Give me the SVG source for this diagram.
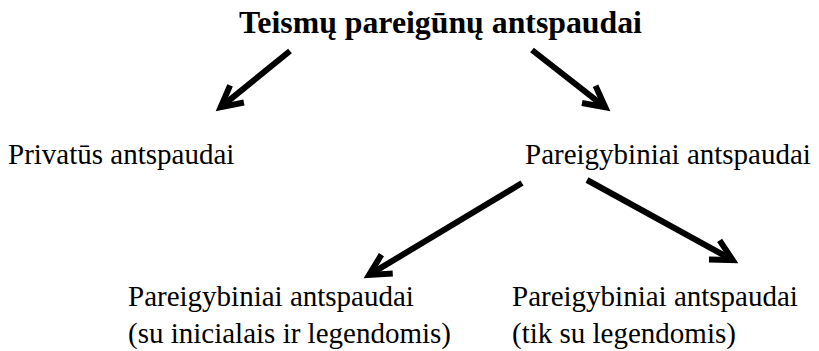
<svg xmlns="http://www.w3.org/2000/svg" width="819" height="351" viewBox="0 0 819 351">
  <style>
    text { font-family: "Liberation Serif", Tinos, "Times New Roman", Times, "DejaVu Serif", "Noto Serif", serif; fill: #000; }
    .title { font-size: 31.8px; font-weight: bold; }
    .lbl { font-size: 29px; }
    .conn { fill: none; stroke: #000; stroke-width: 6; marker-end: url(#ah); }
  </style>
  <defs>
    <marker id="ah" markerUnits="userSpaceOnUse" markerWidth="60" markerHeight="60" viewBox="-30 -30 60 60" refX="0" refY="0" orient="auto" overflow="visible">
      <path d="M-21,-11 L0,0 L-21,11" fill="none" stroke="#000" stroke-width="6" stroke-linejoin="miter"/>
    </marker>
  </defs>
  <rect width="819" height="351" fill="#fff"/>
  <g id="root">
    <text class="title" x="440.5" y="33" text-anchor="middle">Teismų pareigūnų antspaudai</text>
  </g>
  <g id="private">
    <text class="lbl" x="8" y="164">Privatūs antspaudai</text>
  </g>
  <g id="official">
    <text class="lbl" x="525" y="164">Pareigybiniai antspaudai</text>
  </g>
  <g id="official-initials">
    <text class="lbl" x="128" y="306">Pareigybiniai antspaudai</text>
    <text class="lbl" x="128" y="343">(su inicialais ir legendomis)</text>
  </g>
  <g id="official-legends">
    <text class="lbl" x="512" y="306">Pareigybiniai antspaudai</text>
    <text class="lbl" x="512" y="343">(tik su legendomis)</text>
  </g>
  <g id="connectors">
    <path class="conn" d="M290,51 L220.7,107.2"/>
    <path class="conn" d="M532,50 L605.3,107.3"/>
    <path class="conn" d="M522,183 L369.1,274.9"/>
    <path class="conn" d="M587,180 L732.7,260.1"/>
  </g>
</svg>
